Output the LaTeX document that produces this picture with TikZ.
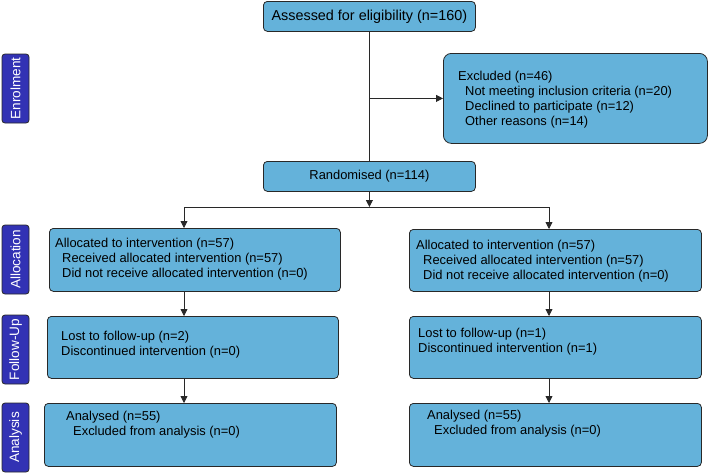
\documentclass[tikz,border=0pt]{standalone}
\usepackage{fontspec}
\setmainfont{Liberation Sans}
\usepackage{tikz}
\usetikzlibrary{positioning}
\usetikzlibrary{arrows.meta}
\definecolor{boxblue}{RGB}{100,178,218}
\definecolor{sideblue}{RGB}{50,50,180}
\definecolor{linegray}{RGB}{40,40,40}

\begin{document}
\begin{tikzpicture}[x=1pt,y=-1pt,
		every node/.style={font=\fontsize{12.9}{15}\selectfont},
		stagebox/.style={draw=linegray, line width=0.8pt, fill=boxblue,
			rounded corners=4pt, anchor=north west, inner sep=0pt},
		stagetext/.style={anchor=base west, align=left, inner sep=0pt},
		phase/.style={draw=linegray, line width=0.8pt, fill=sideblue, text=white,
			font=\fontsize{13.6}{15}\selectfont,
			rounded corners=3pt, rotate=90, minimum width=69pt, minimum height=27pt, inner sep=0pt},
		flow/.style={draw=linegray, line width=0.8pt},
		arr/.style={flow, -{Triangle[length=7pt,width=7pt]}}]
	\useasboundingbox (0,0) rectangle (708,474);
	% phase labels on the left
	\node[phase] (enrol) at (15.5,88.5) {Enrolment};
	\node[phase] (alloc) at (15.5,259.5) {Allocation};
	\node[phase] (follow) at (15.5,349.5) {Follow-Up};
	\node[phase] (analys) at (15.5,437.5) {Analysis};
	% enrolment
	\node[stagebox, minimum width=212pt, minimum height=30pt,
		font=\fontsize{14.4}{15}\selectfont] (assess) at (263,1) {Assessed for eligibility (n=160)};
	\node[stagebox, minimum width=264pt, minimum height=90pt, rounded corners=8pt] (excl) at (443,53) {};
	\node[stagetext] (excltext) at (458,125) {Excluded (n=46)\\
		\hspace*{7pt}Not meeting inclusion criteria (n=20)\\
		\hspace*{7pt}Declined to participate (n=12)\\
		\hspace*{7pt}Other reasons (n=14)};
	\node[stagebox, minimum width=212pt, minimum height=30pt] (random) at (263,161) {Randomised (n=114)};
	% allocation
	\node[stagebox, minimum width=291pt, minimum height=63pt] (allocL) at (49,228) {};
	\node[stagetext] (allocLtext) at (55,277) {Allocated to intervention (n=57)\\
		\hspace*{7pt}Received allocated intervention (n=57)\\
		\hspace*{7pt}Did not receive allocated intervention (n=0)};
	\node[stagebox, minimum width=292pt, minimum height=62pt] (allocR) at (409,229) {};
	\node[stagetext] (allocRtext) at (416,279) {Allocated to intervention (n=57)\\
		\hspace*{7pt}Received allocated intervention (n=57)\\
		\hspace*{7pt}Did not receive allocated intervention (n=0)};
	% follow-up
	\node[stagebox, minimum width=291pt, minimum height=62pt] (followL) at (47,316) {};
	\node[stagetext] (followLtext) at (61,355) {Lost to follow-up (n=2)\\
		Discontinued intervention (n=0)};
	\node[stagebox, minimum width=292pt, minimum height=62pt] (followR) at (409,316) {};
	\node[stagetext] (followRtext) at (418,352) {Lost to follow-up (n=1)\\
		Discontinued intervention (n=1)};
	% analysis
	\node[stagebox, minimum width=292pt, minimum height=63pt] (analysL) at (44,403) {};
	\node[stagetext] (analysLtext) at (66,435) {Analysed (n=55)\\
		\hspace*{7pt}Excluded from analysis (n=0)};
	\node[stagebox, minimum width=292pt, minimum height=63pt] (analysR) at (409,403) {};
	\node[stagetext] (analysRtext) at (427,434) {Analysed (n=55)\\
		\hspace*{7pt}Excluded from analysis (n=0)};
	% connectors
	\coordinate (exclJoin) at (assess.south |- excl.west);
	\coordinate (split) at (assess.south |- 0,207);
	\coordinate (splitL) at (184,207);
	\coordinate (splitR) at (549,207);
	\draw[flow] (assess.south) -- (random.north);
	\draw[arr] (exclJoin) -- (excl.west);
	\draw[arr] (random.south) -- (split);
	\draw[flow] (splitL) -- (splitR);
	\draw[arr] (splitL) -- (splitL |- allocL.north);
	\draw[arr] (splitR) -- (splitR |- allocR.north);
	\draw[arr] (splitL |- allocL.south) -- (splitL |- followL.north);
	\draw[arr] (splitR |- allocR.south) -- (splitR |- followR.north);
	\draw[arr] (splitL |- followL.south) -- (splitL |- analysL.north);
	\draw[arr] (splitR |- followR.south) -- (splitR |- analysR.north);
\end{tikzpicture}
\end{document}
